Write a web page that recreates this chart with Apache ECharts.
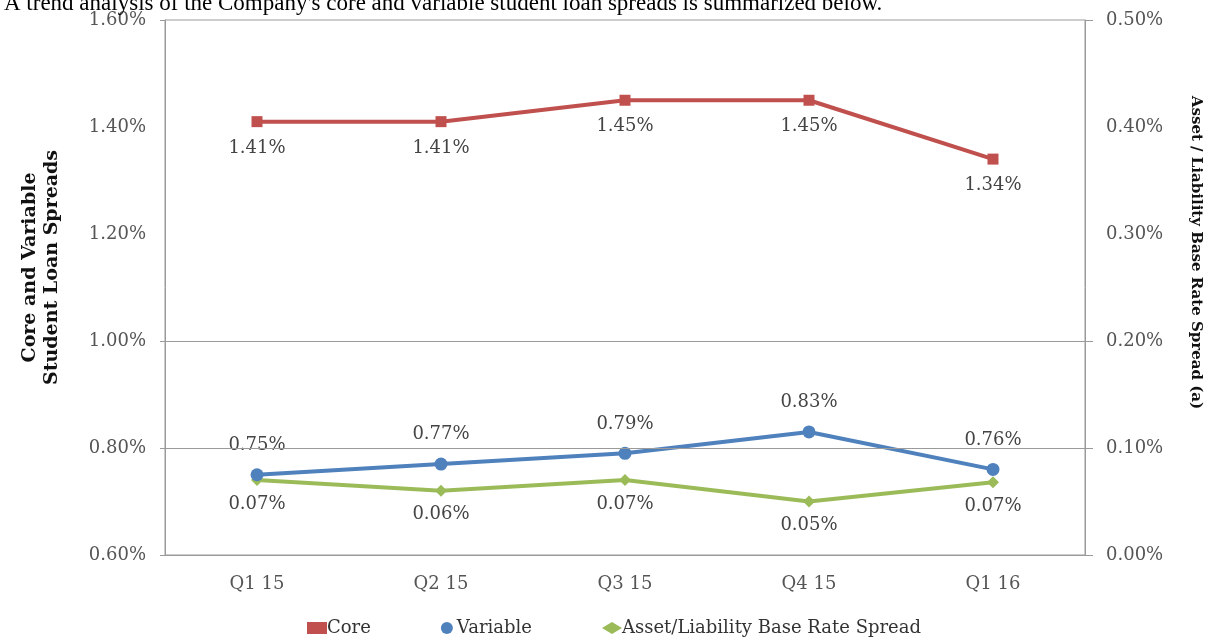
<!DOCTYPE html>
<html>
<head>
<meta charset="utf-8">
<script src="https://cdn.jsdelivr.net/npm/echarts@6/dist/echarts.min.js"></script>
<style>html,body{margin:0;padding:0;background:#fff}#c{width:1211px;height:637px}</style>
</head>
<body>
<div id="c"></div>
<script>
const categories = ['Q1 15', 'Q2 15', 'Q3 15', 'Q4 15', 'Q1 16'];
const coreValues = [1.41, 1.41, 1.45, 1.45, 1.34];
const variableValues = [0.75, 0.77, 0.79, 0.83, 0.76];
const baseRateValues = [0.07, 0.06, 0.07, 0.05, 0.068];
const leftGridValues = [1.0, 0.8];
const leftTickValues = [0.6, 0.8, 1.0, 1.6];
const rightTickValues = [0, 0.1, 0.2, 0.5];

const FONT = '"DejaVu Serif", "Liberation Serif", serif';
const TFONT = '"Liberation Serif", "DejaVu Serif", serif';
const pct = v => Number(v).toFixed(2) + '%';
const GRAY = '#9a9a9a';
const LBL = '#555';

const chart = echarts.init(document.getElementById('c'), null, {renderer: 'canvas'});
chart.setOption({
  animation: false,
  backgroundColor: '#fff',
  title: {
    text: "A trend analysis of the Company's core and variable student loan spreads is summarized below.",
    left: -1, top: -13,
    textStyle: {fontFamily: TFONT, fontSize: 23, fontWeight: 'normal', color: '#000'}
  },
  grid: {left: 165, right: 126, top: 20, bottom: 82, show: true, borderColor: GRAY, borderWidth: 1},
  legend: {
    bottom: -5, left: 302,
    itemGap: 70, itemWidth: 20, itemHeight: 12,
    textStyle: {fontFamily: FONT, fontSize: 18, color: '#333', padding: [0, 0, 0, -5]},
    data: [
      {name: 'Core', icon: 'rect'},
      {name: 'Variable', icon: 'circle'},
      {name: 'Asset/Liability Base Rate Spread', icon: 'diamond'}
    ]
  },
  xAxis: {
    type: 'category', data: categories, boundaryGap: true,
    axisLine: {lineStyle: {color: GRAY}},
    axisTick: {show: false},
    axisLabel: {fontFamily: FONT, fontSize: 18, color: LBL, margin: 20}
  },
  yAxis: [{
    type: 'value', min: 0.6, max: 1.6, interval: 0.2, position: 'left',
    name: 'Core and Variable\nStudent Loan Spreads', nameLocation: 'middle', nameGap: 102,
    nameTextStyle: {fontFamily: FONT, fontSize: 19, fontWeight: 'bold', color: '#111', lineHeight: 22, padding: [0, 0, 0, 40]},
    axisLine: {show: true, lineStyle: {color: GRAY}},
    axisTick: {show: true, length: 5, customValues: leftTickValues, lineStyle: {color: GRAY}},
    splitLine: {show: false},
    axisLabel: {fontFamily: FONT, fontSize: 18, color: LBL, margin: 19, formatter: pct}
  }, {
    type: 'value', min: 0, max: 0.5, interval: 0.1, position: 'right',
    name: 'Asset / Liability Base Rate Spread (a)', nameLocation: 'middle', nameGap: 103, nameRotate: -90,
    nameTextStyle: {fontFamily: FONT, fontSize: 15, fontWeight: 'bold', color: '#111', padding: [0, 70, 0, 0]},
    axisLine: {show: true, lineStyle: {color: GRAY}},
    axisTick: {show: true, length: 8, customValues: rightTickValues, lineStyle: {color: GRAY}},
    splitLine: {show: false},
    axisLabel: {fontFamily: FONT, fontSize: 18, color: LBL, margin: 21, formatter: pct}
  }],
  series: [{
    name: 'Core', type: 'line', yAxisIndex: 0, data: coreValues,
    symbol: 'rect', symbolSize: 11,
    lineStyle: {width: 4, color: '#C0504D'}, itemStyle: {color: '#C0504D'},
    label: {show: true, position: 'bottom', distance: 12, fontFamily: FONT, fontSize: 18, color: '#444', formatter: p => pct(p.value)},
    markLine: {
      silent: true, symbol: 'none', label: {show: false},
      lineStyle: {color: GRAY, type: 'solid', width: 1},
      data: leftGridValues.map(v => ({yAxis: v}))
    },
    z: 3
  }, {
    name: 'Variable', type: 'line', yAxisIndex: 0, data: variableValues,
    symbol: 'circle', symbolSize: 13,
    lineStyle: {width: 4, color: '#4F81BD'}, itemStyle: {color: '#4F81BD'},
    label: {show: true, position: 'top', distance: 14, fontFamily: FONT, fontSize: 18, color: '#444', formatter: p => pct(p.value)},
    z: 4
  }, {
    name: 'Asset/Liability Base Rate Spread', type: 'line', yAxisIndex: 1, data: baseRateValues,
    symbol: 'diamond', symbolSize: 12,
    lineStyle: {width: 4, color: '#9BBB59'}, itemStyle: {color: '#9BBB59'},
    label: {show: true, position: 'bottom', distance: 9, fontFamily: FONT, fontSize: 18, color: '#444', formatter: p => pct(p.value)},
    z: 3
  }]
});
</script>
</body>
</html>
